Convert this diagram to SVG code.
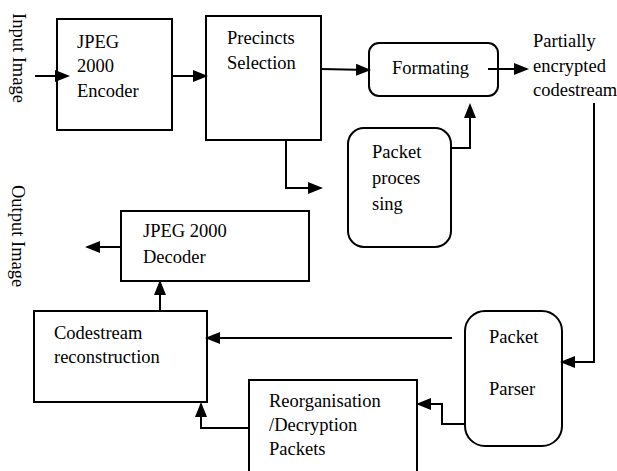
<svg xmlns="http://www.w3.org/2000/svg" width="617" height="471" viewBox="0 0 617 471">
  <defs>
    <marker id="arrow" markerUnits="userSpaceOnUse" markerWidth="15" markerHeight="12" refX="13" refY="6" orient="auto" viewBox="0 0 15 12">
      <path d="M0,0 L15,6 L0,12 z" fill="#000"/>
    </marker>
    <style>
      .box { fill: #fff; stroke: #000; stroke-width: 2; }
      .txt { font-family: "Liberation Serif", "Times New Roman", serif; font-size: 18.5px; fill: #000; }
      .conn path { fill: none; stroke: #000; stroke-width: 2; marker-end: url(#arrow); }
    </style>
  </defs>

  <rect width="617" height="471" fill="#fff"/>

  <!-- side labels -->
  <text class="txt" transform="translate(13,13) rotate(90)">Input Image</text>
  <text class="txt" transform="translate(12,185) rotate(90)">Output Image</text>

  <g id="encoder">
    <rect class="box" x="57" y="19" width="115" height="111"/>
    <text class="txt" x="77" y="48">JPEG</text>
    <text class="txt" x="77" y="72">2000</text>
    <text class="txt" x="77" y="97">Encoder</text>
  </g>

  <g id="precincts">
    <rect class="box" x="206" y="16" width="115" height="124"/>
    <text class="txt" x="227" y="44">Precincts</text>
    <text class="txt" x="227" y="69">Selection</text>
  </g>

  <g id="formating">
    <rect class="box" x="369" y="43" width="129" height="53" rx="10"/>
    <text class="txt" x="392" y="74">Formating</text>
  </g>

  <g id="codestream-out">
    <text class="txt" x="533" y="47">Partially</text>
    <text class="txt" x="533" y="72">encrypted</text>
    <text class="txt" x="533" y="96">codestream</text>
  </g>

  <g id="packet-processing">
    <rect class="box" x="348" y="128" width="103" height="119" rx="16"/>
    <text class="txt" x="372" y="158">Packet</text>
    <text class="txt" x="372" y="184">proces</text>
    <text class="txt" x="372" y="210">sing</text>
  </g>

  <g id="decoder">
    <rect class="box" x="121" y="211" width="188" height="70"/>
    <text class="txt" x="143" y="237">JPEG 2000</text>
    <text class="txt" x="143" y="263">Decoder</text>
  </g>

  <g id="reconstruction">
    <rect class="box" x="34" y="311" width="173" height="91"/>
    <text class="txt" x="54" y="339">Codestream</text>
    <text class="txt" x="54" y="363">reconstruction</text>
  </g>

  <g id="packet-parser">
    <rect class="box" x="465" y="311" width="97" height="135" rx="20"/>
    <text class="txt" x="489" y="343">Packet</text>
    <text class="txt" x="489" y="395">Parser</text>
  </g>

  <g id="reorganisation">
    <rect class="box" x="249" y="380" width="168" height="100"/>
    <text class="txt" x="269" y="407">Reorganisation</text>
    <text class="txt" x="269" y="431">/Decryption</text>
    <text class="txt" x="269" y="455">Packets</text>
  </g>

  <g id="connectors" class="conn">
    <path d="M35,76 L68,76"/>
    <path d="M172,76 L206,76"/>
    <path d="M321,69 L369,70"/>
    <path d="M488,69 L527,69"/>
    <path d="M286,140 L286,188 L321,188"/>
    <path d="M451,148 L470,148 L470,105"/>
    <path d="M594,103 L594,362 L562,362"/>
    <path d="M452,338 L207,338"/>
    <path d="M465,424 L442,424 L442,404 L418,404"/>
    <path d="M249,428 L201,428 L201,404"/>
    <path d="M160,311 L160,282"/>
    <path d="M121,247 L87,247"/>
  </g>
</svg>
